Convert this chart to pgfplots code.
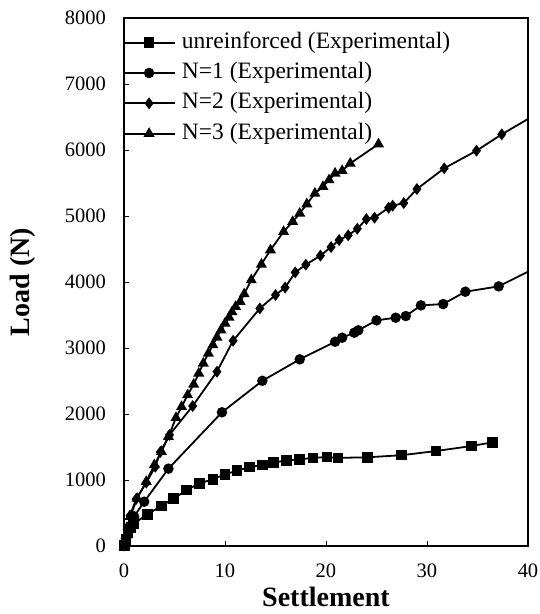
\documentclass[border=0pt]{standalone}
\usepackage{fontspec}
\setmainfont{Liberation Serif}
\usepackage{pgfplots}
\pgfplotsset{compat=1.18}

\begin{document}
\begin{tikzpicture}
\useasboundingbox (0,0) rectangle (539pt,614pt);
\begin{axis}[
    at={(124pt,68pt)}, anchor=south west,
    scale only axis,
    width=404pt, height=528pt,
    xmin=0, xmax=40,
    ymin=0, ymax=8000,
    xtick={0,10,20,30,40},
    ytick={0,1000,...,8000},
    scaled y ticks=false,
    /pgf/number format/1000 sep={},
    /pgf/number format/assume math mode=true,
    tick align=inside,
    xtick pos=bottom, ytick pos=left,
    major tick length=5pt,
    axis line style={line width=1.1pt},
    tick style={line width=0.9pt, black},
    ticklabel style={font=\fontsize{20.5}{24}\selectfont},
    xticklabel style={inner sep=0pt, yshift=-18pt},
    yticklabel style={inner sep=0pt, xshift=-18pt},
    xlabel={\textbf{Settlement}},
    ylabel={\textbf{Load (N)}},
    label style={font=\fontsize{28}{32}\selectfont},
    x label style={at={(axis description cs:0.5,0)}, anchor=center, yshift=-51pt},
    y label style={at={(axis description cs:0,0.5)}, anchor=center, yshift=101pt},
    every axis plot/.append style={line width=1.8pt, black},
    legend style={at={(0,1)}, anchor=north west, xshift=-2pt, yshift=-14pt,
        draw=none, fill=none, inner sep=0pt,
        font=\fontsize{23.5}{28}\selectfont,
        nodes={inner sep=0pt, text height=16pt, text depth=5pt},
        row sep=9.3pt, column sep=6pt},
    legend cell align=left,
    legend image code/.code={
        \draw[mark repeat=2, mark phase=2] plot coordinates {(0pt,0pt) (26pt,0pt) (52pt,0pt)};
    },
]

% unreinforced
\addplot[mark=square*, mark size=4.4pt] coordinates {
(0.05,10) (0.2,100) (0.4,200) (0.7,280) (1.0,340) (2.3,480) (3.7,606) (4.9,717)
(6.2,848) (7.5,950) (8.8,1010) (10.0,1086) (11.2,1141) (12.4,1195) (13.7,1227)
(14.8,1262) (16.1,1298) (17.4,1313) (18.7,1335) (20.1,1348) (21.2,1335) (24.1,1344)
(27.5,1376) (30.9,1439) (34.4,1515) (36.5,1571)
};

% N=1
\addplot[mark=*, mark size=4.3pt] coordinates {
(0.05,10) (0.2,120) (0.5,280) (1.0,450) (2.0,671) (4.4,1172) (9.7,2026) (13.7,2503)
(17.4,2828) (20.9,3095) (21.6,3156) (22.8,3232) (23.2,3268) (25.0,3419) (26.9,3459)
(27.9,3484) (29.4,3646) (31.6,3666) (33.8,3853) (37.1,3934) (42,4310)
};

% N=2
\addplot[mark=diamond*, mark size=4.5pt] coordinates {
(0.05,10) (0.3,250) (0.6,460) (1.2,712) (2.2,959) (3.1,1201) (3.6,1424) (4.5,1682)
(6.8,2121) (9.2,2641) (10.8,3110) (13.45,3600) (15.0,3803) (15.95,3915) (16.95,4146)
(18.0,4262) (19.45,4400) (20.5,4530) (21.3,4636) (22.2,4707) (23.1,4807) (24.0,4954)
(24.8,4974) (26.2,5125) (26.6,5156) (27.7,5196) (29.0,5409) (31.7,5722) (34.9,5989)
(37.4,6237) (42,6650)
};

% N=3
\addplot[mark=triangle*, mark size=4.6pt] coordinates {
(0.05,10) (0.2,160) (0.6,444) (1.3,720) (2.2,974) (3.0,1227) (3.7,1429) (4.4,1656)
(5.15,1944) (5.7,2110) (6.3,2288) (6.9,2449) (7.4,2616) (7.85,2768) (8.35,2919)
(8.8,3045) (9.2,3161) (9.6,3272) (10.0,3374) (10.4,3464) (10.7,3545) (11.05,3626)
(11.5,3701) (11.9,3818) (12.6,4030) (13.6,4268) (14.5,4484) (15.8,4762) (16.7,4914)
(17.4,5040) (18.1,5181) (18.9,5343) (19.7,5443) (20.3,5545) (20.9,5646) (21.6,5686)
(22.4,5797) (25.2,6090)
};

\legend{unreinforced (Experimental), N=1 (Experimental), N=2 (Experimental), N=3 (Experimental)}
\end{axis}
\end{tikzpicture}
\end{document}
